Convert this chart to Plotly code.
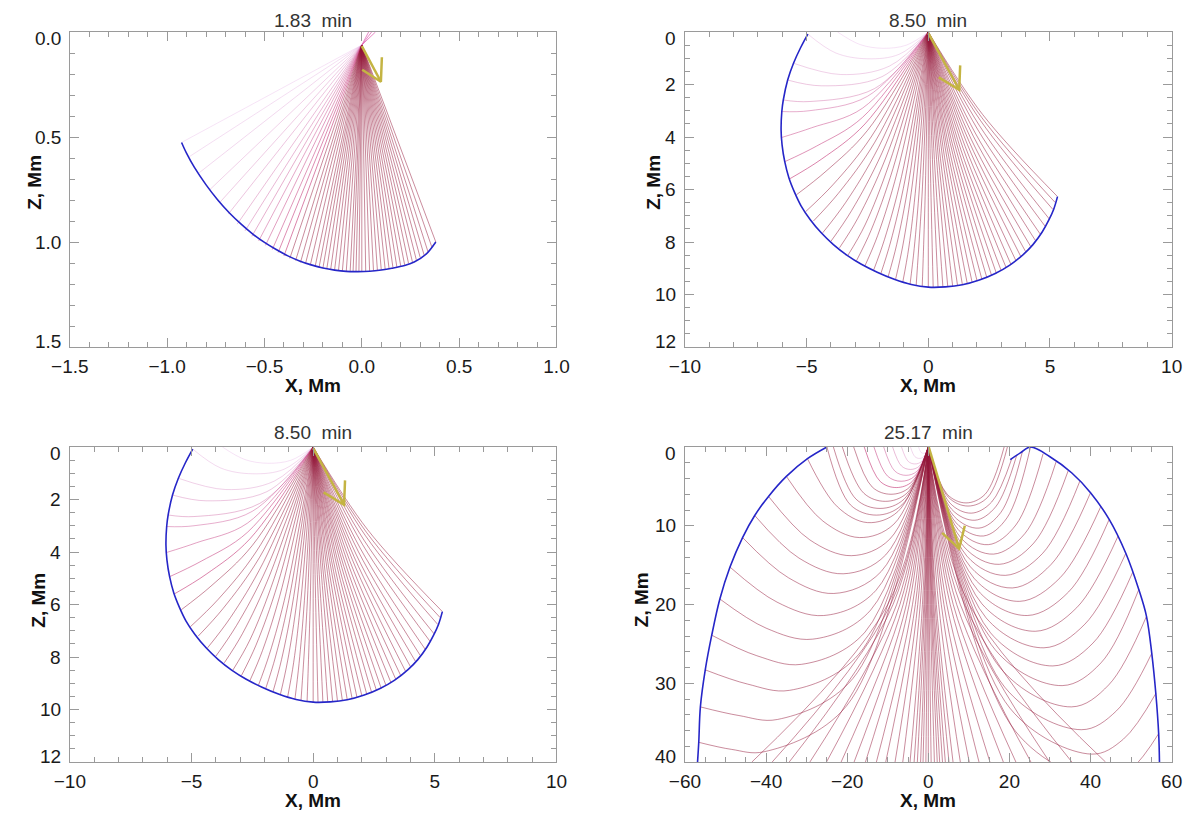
import plotly.graph_objects as go

FONT = "Liberation Sans, Arial, Helvetica, sans-serif"
GRAY = "#9a9a9a"
OFF = 8  # the page body margin shifts the figure by this many pixels

# ---------------- 1.83 min ----------------
p1_source = [0.0, 0.062]
p1_front_x = [-0.926, -0.90, -0.86, -0.80, -0.74, -0.68, -0.62, -0.56, -0.50, -0.44, -0.38, -0.32, -0.26, -0.20,
              -0.14, -0.08, -0.02, 0.04, 0.10, 0.154, 0.22, 0.269, 0.33, 0.38]
p1_front_z = [0.526, 0.578, 0.645, 0.728, 0.800, 0.862, 0.915, 0.962, 1.002, 1.036, 1.066, 1.090, 1.109, 1.124,
              1.134, 1.140, 1.141, 1.139, 1.133, 1.125, 1.112, 1.095, 1.058, 1.00]
# ray end points on the front (rays are near straight at this time)
p1_ray_x = [-0.926, -0.885, -0.835, -0.78, -0.73, -0.685, -0.64, -0.60, -0.565, -0.53, -0.495, -0.46, -0.43,
            -0.40, -0.37, -0.34, -0.315, -0.29, -0.265, -0.24, -0.22, -0.20, -0.18, -0.16, -0.14, -0.12, -0.10,
            -0.08, -0.06, -0.045, -0.03, -0.015, 0.0,
            0.02, 0.04, 0.06, 0.08, 0.10, 0.12, 0.14, 0.16, 0.18, 0.20, 0.22, 0.24, 0.26, 0.28, 0.30, 0.32, 0.34,
            0.36, 0.38]
p1_ray_z = [0.526, 0.593, 0.67, 0.75, 0.812, 0.866, 0.915, 0.947, 0.973, 0.995, 1.016, 1.036, 1.05,
            1.066, 1.078, 1.088, 1.097, 1.105, 1.111, 1.117, 1.122, 1.124, 1.128, 1.131, 1.134, 1.137, 1.139,
            1.140, 1.141, 1.141, 1.141, 1.141, 1.140,
            1.140, 1.139, 1.137, 1.135, 1.133, 1.130, 1.127, 1.123, 1.119, 1.115, 1.109, 1.102, 1.095, 1.085, 1.074,
            1.062, 1.047, 1.025, 1.0]
p1_n_soft = 14
p1_up_x = [0.035, 0.05, 0.07]
p1_up_z = [0.0, 0.0, 0.0]
p1_shaft_x = [0.0, 0.098]
p1_shaft_z = [0.067, 0.237]
p1_head_x = [0.103, 0.098, 0.002]
p1_head_z = [0.12, 0.237, 0.18]

# ---------------- 8.50 min ----------------
p2_source = [0.0, 0.0]
p2_front_x = [-4.95, -5.25, -5.54, -5.78, -5.96, -6.02, -6.05, -6.01, -5.90, -5.73, -5.50, -5.23, -4.85, -4.40,
              -3.90, -3.35, -2.75, -2.10, -1.40, -0.70, 0.00, 0.70, 1.40, 2.10, 2.75, 3.35, 3.91, 4.30, 4.68,
              4.95, 5.15, 5.31]
p2_front_z = [0.08, 0.60, 1.19, 1.83, 2.59, 3.03, 3.73, 4.30, 4.94, 5.55, 6.10, 6.62, 7.15, 7.65,
              8.10, 8.50, 8.85, 9.15, 9.42, 9.62, 9.72, 9.71, 9.63, 9.45, 9.20, 8.88, 8.47, 8.10, 7.62,
              7.17, 6.76, 6.27]
# each ray: points read along it after leaving the source
p2_ray_x = [
    [-0.9, -1.85, -2.8, -3.73], [-1.2, -2.5, -3.8, -4.95], [-1.6, -3.6, -5.54], [-1.9, -4.4, -5.78],
    [-2.2, -4.9, -5.96], [-2.5, -4.9, -6.02], [-2.7, -4.8, -6.03], [-2.7, -4.6, -5.9], [-2.6, -4.4, -5.71],
    [-2.5, -4.2, -5.42], [-2.35, -3.9, -5.05], [-2.2, -3.7, -4.72], [-2.05, -3.4, -4.34], [-1.9, -3.15, -4.0],
    [-1.75, -2.9, -3.65], [-1.6, -2.6, -3.3], [-1.45, -2.35, -2.95], [-1.28, -2.08, -2.6], [-1.1, -1.8, -2.25],
    [-0.95, -1.55, -1.95], [-0.8, -1.3, -1.65], [-0.65, -1.05, -1.35], [-0.5, -0.8, -1.05],
    [-0.36, -0.58, -0.75], [-0.24, -0.4, -0.5], [-0.12, -0.2, -0.25], [0.0, 0.0],
    [0.08, 0.2], [0.17, 0.4], [0.25, 0.6], [0.34, 0.8], [0.42, 1.0], [0.5, 1.2], [0.59, 1.4], [0.67, 1.6],
    [0.76, 1.8], [0.84, 2.0], [0.92, 2.2], [1.01, 2.4], [1.09, 2.6], [1.18, 2.8], [1.26, 3.0], [1.34, 3.2],
    [1.43, 3.4], [1.51, 3.6], [1.6, 3.8], [1.68, 4.0], [1.76, 4.2], [1.85, 4.4], [1.93, 4.6], [2.02, 4.8],
    [2.09, 4.97], [2.15, 5.12], [2.19, 5.22], [2.23, 5.31]]
p2_ray_z = [
    [0.5, 0.62, 0.48, 0.0], [0.85, 1.02, 0.8, 0.08], [1.3, 1.62, 1.19], [1.7, 2.05, 1.83],
    [2.15, 2.65, 2.59], [2.45, 3.0, 3.03], [2.9, 3.65, 4.02], [3.25, 4.35, 4.94], [3.5, 4.85, 5.6],
    [3.75, 5.3, 6.2], [4.0, 5.8, 6.85], [4.2, 6.15, 7.2], [4.4, 6.5, 7.65], [4.6, 6.8, 7.97],
    [4.8, 7.1, 8.22], [5.0, 7.35, 8.5], [5.2, 7.55, 8.71], [5.35, 7.75, 8.9], [5.5, 7.9, 9.08],
    [5.6, 8.0, 9.2], [5.7, 8.1, 9.32], [5.75, 8.15, 9.44], [5.8, 8.2, 9.53],
    [5.85, 8.25, 9.61], [5.9, 8.3, 9.66], [5.9, 8.35, 9.7], [4.86, 9.72],
    [4.86, 9.72], [4.86, 9.72], [4.86, 9.71], [4.85, 9.7], [4.84, 9.68], [4.83, 9.65], [4.81, 9.62], [4.79, 9.58],
    [4.77, 9.53], [4.74, 9.47], [4.71, 9.41], [4.67, 9.34], [4.64, 9.27], [4.6, 9.2], [4.55, 9.1], [4.49, 8.98],
    [4.43, 8.86], [4.35, 8.71], [4.27, 8.55], [4.18, 8.37], [4.08, 8.16], [3.97, 7.94], [3.85, 7.7], [3.7, 7.4],
    [3.55, 7.12], [3.38, 6.76], [3.25, 6.5], [3.14, 6.27]]
p2_n_soft = 9
p2_shaft_x = [0.0, 1.27]
p2_shaft_z = [0.04, 2.2]
p2_head_x = [1.31, 1.27, 0.43]
p2_head_z = [1.27, 2.2, 1.73]

# ---------------- 25.17 min ----------------
p4_source = [0.0, 0.0]
p4_front_l_x = [-25.0, -29.8, -35.0, -39.4, -42.8, -45.8, -48.9, -51.4, -53.4, -55.0, -56.2, -56.6, -56.9]
p4_front_l_z = [0.0, 1.48, 3.73, 6.27, 8.7, 11.5, 15.25, 19.3, 23.9, 28.3, 33.0, 37.5, 40.0]
p4_front_r_x = [20.2, 22.7, 25.2, 29.9, 35.4, 40.0, 44.6, 48.7, 51.9, 53.8, 55.1, 56.1, 56.8, 57.0]
p4_front_r_z = [1.6, 0.75, 0.0, 1.2, 3.3, 5.8, 9.2, 13.5, 18.1, 21.5, 26.2, 31.3, 36.4, 40.0]
p4_ray_x = [
    # arcs turning back to the surface, left of the source
    [-0.6, -1.2, -1.8, -2.4], [-1.1, -2.2, -3.3, -4.4], [-1.65, -3.3, -4.95, -6.6], [-2.2, -4.4, -6.6, -8.8],
    [-2.75, -5.5, -8.25, -11.0], [-3.35, -6.7, -10.05, -13.4], [-3.95, -7.9, -11.85, -15.8],
    [-4.6, -9.2, -13.8, -18.4], [-5.3, -10.6, -15.9, -21.2], [-6.0, -11.9, -17.8, -23.4],
    [-6.5, -12.8, -19.2, -25.0],
    # arcs ending on the left front
    [-7.5, -15.0, -22.4, -29.8], [-8.5, -17.0, -26.0, -35.0], [-9.5, -19.0, -29.2, -39.4],
    [-10.5, -21.0, -31.9, -42.8], [-11.6, -23.3, -34.5, -45.8], [-12.9, -25.8, -37.3, -48.9],
    [-14.2, -28.5, -40.0, -51.4], [-15.6, -31.3, -42.3, -53.4], [-17.1, -34.2, -44.6, -55.0],
    [-18.6, -37.2, -46.7, -56.2], [-20.2, -40.5, -48.5, -56.6],
    # steep rays leaving through the bottom
    [-10.0, -43.5], [-9.3, -38.5], [-8.7, -34.3], [-7.8, -29.2], [-7.0, -25.1], [-6.2, -21.5], [-5.4, -18.3],
    [-4.7, -15.5], [-3.9, -12.8], [-3.2, -10.5], [-2.6, -8.2], [-2.0, -6.3], [-1.45, -4.5], [-1.1, -3.5],
    [-0.88, -2.7], [-0.62, -1.9], [-0.42, -1.3], [-0.2, -0.6], [0.0, 0.0],
    [0.22, 0.7], [0.5, 1.5], [0.72, 2.2], [0.92, 2.8], [1.15, 3.5], [1.38, 4.2], [1.68, 5.1], [1.98, 6.1],
    [2.55, 7.9], [3.2, 10.1], [3.85, 12.5], [4.55, 15.2], [5.4, 18.5], [6.15, 21.6], [7.0, 25.3], [7.9, 29.9],
    [8.9, 35.4], [10.1, 43.7],
    # arcs right of the source
    [4.65, 9.3, 14.0, 18.7], [4.9, 9.8, 14.7, 19.5],
    [5.3, 10.6, 15.6, 20.6], [5.75, 11.5, 16.6, 21.8], [6.25, 12.5, 17.9, 23.2], [6.8, 13.6, 19.4, 25.2],
    [7.4, 14.8, 21.6, 28.3], [8.05, 16.1, 23.8, 31.5], [8.75, 17.5, 26.0, 34.5], [9.5, 19.0, 28.2, 37.4],
    [10.35, 20.7, 30.3, 40.0], [11.25, 22.5, 32.5, 42.5], [12.2, 24.4, 34.6, 44.6], [13.2, 26.4, 36.6, 46.8],
    [14.25, 28.5, 38.6, 48.7], [15.35, 30.7, 40.6, 50.4], [16.5, 33.0, 42.6, 51.9], [17.65, 35.3, 44.5, 53.8],
    [18.85, 37.7, 46.4, 55.1], [20.1, 40.2, 48.1, 56.1], [21.5, 43.0, 50.0, 56.8]]
p4_ray_z = [
    [0.68, 0.8, 0.68, 0.0], [1.23, 1.45, 1.23, 0.0], [1.83, 2.15, 1.83, 0.0], [2.42, 2.85, 2.42, 0.0],
    [3.06, 3.6, 3.06, 0.0], [3.7, 4.35, 3.7, 0.0], [4.38, 5.15, 4.38, 0.0],
    [5.1, 6.0, 5.1, 0.0], [5.87, 6.9, 5.87, 0.0], [6.63, 7.8, 6.63, 0.0],
    [7.35, 8.65, 7.35, 0.0],
    [8.2, 9.6, 7.6, 1.48], [9.8, 11.5, 9.4, 3.73], [11.7, 13.8, 11.8, 6.27],
    [13.7, 16.1, 14.1, 8.7], [15.8, 18.6, 16.6, 11.5], [18.2, 21.4, 19.7, 15.25],
    [20.7, 24.4, 23.0, 19.3], [23.5, 27.6, 26.5, 23.9], [26.3, 30.9, 30.1, 28.3],
    [29.4, 34.6, 34.1, 33.0], [32.9, 38.7, 38.4, 37.5],
    [20.0, 40.0], [20.0, 40.0], [20.0, 40.0], [20.0, 40.0], [20.0, 40.0], [20.0, 40.0], [20.0, 40.0],
    [20.0, 40.0], [20.0, 40.0], [20.0, 40.0], [20.0, 40.0], [20.0, 40.0], [20.0, 40.0], [20.0, 40.0],
    [20.0, 40.0], [20.0, 40.0], [20.0, 40.0], [20.0, 40.0], [20.0, 40.0],
    [20.0, 40.0], [20.0, 40.0], [20.0, 40.0], [20.0, 40.0], [20.0, 40.0], [20.0, 40.0], [20.0, 40.0], [20.0, 40.0],
    [20.0, 40.0], [20.0, 40.0], [20.0, 40.0], [20.0, 40.0], [20.0, 40.0], [20.0, 40.0], [20.0, 40.0], [20.0, 40.0],
    [20.0, 40.0], [20.0, 40.0],
    [6.0, 7.1, 6.0, 0.0], [6.35, 7.5, 6.35, 0.0],
    [7.1, 8.4, 7.0, 1.45], [7.9, 9.3, 7.6, 1.05], [8.75, 10.3, 8.3, 0.58], [9.6, 11.3, 9.0, 0.0],
    [10.5, 12.4, 9.9, 0.85], [11.55, 13.6, 11.0, 1.9], [12.65, 14.9, 12.2, 3.0], [13.85, 16.3, 13.5, 4.3],
    [15.2, 17.9, 14.9, 5.8], [16.65, 19.6, 16.6, 7.6], [18.2, 21.4, 18.4, 9.2], [19.9, 23.4, 20.4, 11.3],
    [21.7, 25.5, 22.5, 13.5], [23.6, 27.8, 24.9, 15.9], [25.75, 30.3, 27.4, 18.1], [28.0, 33.0, 30.2, 21.5],
    [30.5, 35.9, 33.5, 26.2], [33.15, 39.0, 37.1, 31.3], [36.1, 42.5, 40.9, 36.4]]
p4_n_soft = 7
p4_shaft_x = [0.1, 7.6]
p4_shaft_z = [0.0, 12.9]
p4_head_x = [9.0, 7.6, 3.4]
p4_head_z = [10.0, 12.9, 10.9]

titles = ["1.83\u00a0 min", "8.50\u00a0 min", "8.50\u00a0 min", "25.17\u00a0 min"]
z_ticks = [[0.0, 0.5, 1.0, 1.5], [0, 2, 4, 6, 8, 10, 12], [0, 2, 4, 6, 8, 10, 12], [0, 10, 20, 30, 40]]
z_tick_text = [["0.0", "0.5", "1.0", "1.5"], ["0", "2", "4", "6", "8", "10", "12"],
               ["0", "2", "4", "6", "8", "10", "12"], ["0", "10", "20", "30", "40"]]

fig = go.Figure()


def px(x):
    return (x - OFF) / 1200


def py(y):
    return 1 - (y - OFF) / 813


LEFT = [px(52), px(552)]
RIGHT = [px(684), px(1184)]
TOP = [py(347), py(32)]
BOTTOM = [py(762), py(447)]
panels = [("x", "y", LEFT, TOP), ("x2", "y2", RIGHT, TOP), ("x3", "y3", LEFT, BOTTOM), ("x4", "y4", RIGHT, BOTTOM)]


def soft_color(k, n_soft):
    # the shallow rays are drawn pale and pinkish, the rest dark red
    if k >= n_soft:
        return "rgba(150,25,60,0.5)"
    f = k / max(n_soft - 1, 1)
    r = int(228 - 33 * f)
    g = int(175 - 125 * f)
    b = int(228 - 113 * f)
    a = 0.35 + 0.25 * f
    return f"rgba({r},{g},{b},{a:.2f})"


def add_line(xs, zs, ax, color, width=1.0, spline=False):
    fig.add_trace(go.Scatter(x=xs, y=zs, mode="lines", xaxis=ax[0], yaxis=ax[1],
                             line=dict(color=color, width=width, shape="spline" if spline else "linear"),
                             hoverinfo="skip", showlegend=False))


def add_rays(src, rx, rz, n_soft, ax):
    for k in range(len(rx)):
        add_line([src[0]] + rx[k], [src[1]] + rz[k], ax, soft_color(k, n_soft), spline=len(rx[k]) > 1)


def add_arrow(sx, sz, hx, hz, ax):
    add_line(sx, sz, ax, "#c4b443", width=2.5)
    add_line(hx, hz, ax, "#c4b443", width=2.5)


# panel 1
ax = panels[0]
add_rays(p1_source, [[x] for x in p1_ray_x], [[z] for z in p1_ray_z], p1_n_soft, ax)
for k in range(len(p1_up_x)):
    add_line([p1_source[0], p1_up_x[k]], [p1_source[1], p1_up_z[k]], ax, "rgba(215,60,160,0.6)")
add_line(p1_front_x, p1_front_z, ax, "#2626c8", width=1.6, spline=True)
add_arrow(p1_shaft_x, p1_shaft_z, p1_head_x, p1_head_z, ax)

# panels 2 and 3 (same moment)
for ax in (panels[1], panels[2]):
    add_rays(p2_source, p2_ray_x, p2_ray_z, p2_n_soft, ax)
    add_line(p2_front_x, p2_front_z, ax, "#2626c8", width=1.6, spline=True)
    add_arrow(p2_shaft_x, p2_shaft_z, p2_head_x, p2_head_z, ax)

# panel 4
ax = panels[3]
add_rays(p4_source, p4_ray_x, p4_ray_z, p4_n_soft, ax)
add_line(p4_front_l_x, p4_front_l_z, ax, "#2626c8", width=1.6, spline=True)
add_line(p4_front_r_x, p4_front_r_z, ax, "#2626c8", width=1.6, spline=True)
add_arrow(p4_shaft_x, p4_shaft_z, p4_head_x, p4_head_z, ax)

# x range, z range, major/minor steps
axis_cfg = [
    ([-1.5, 1.0], [1.5, 0.0], 0.5, 0.1, 0.5, 0.1, ".1f"),
    ([-10, 10], [12, 0], 5, 1, 2, 0.5, ""),
    ([-10, 10], [12, 0], 5, 1, 2, 0.5, ""),
    ([-60, 60], [40, 0], 20, 5, 10, 2, ""),
]

layout = {}
annotations = []
for i, ((xa, ya, xdom, ydom), (xr, zr, xt, xm, zt, zm, fmt)) in enumerate(zip(panels, axis_cfg)):
    common = dict(showline=True, linecolor=GRAY, linewidth=1, mirror="allticks", ticks="inside", ticklen=9,
                  tickcolor=GRAY, tickwidth=1, showgrid=False, zeroline=False,
                  tickfont=dict(family=FONT, size=19, color="#1a1a1a"))
    xkey = "xaxis" if i == 0 else f"xaxis{i + 1}"
    ykey = "yaxis" if i == 0 else f"yaxis{i + 1}"
    layout[xkey] = dict(common, domain=xdom, anchor=ya, range=xr, dtick=xt, tick0=0, tickformat=fmt,
                        ticklabelstandoff=2,
                        minor=dict(dtick=xm, tick0=0, ticks="inside", ticklen=5, tickcolor=GRAY, showgrid=False))
    layout[ykey] = dict(common, domain=ydom, anchor=xa, range=zr, dtick=zt, tick0=0, showticklabels=False,
                        minor=dict(dtick=zm, tick0=0, ticks="inside", ticklen=5, tickcolor=GRAY, showgrid=False))
    # z labels: the end labels sit inside the axis span
    n = len(z_ticks[i])
    for j in range(n):
        shift = -6 if j == 0 else (6 if j == n - 1 else 0)
        annotations.append(dict(text=z_tick_text[i][j], x=0, y=z_ticks[i][j], xref=f"{xa} domain", yref=ya,
                                xanchor="right", yanchor="middle", xshift=-7, yshift=shift, showarrow=False,
                                font=dict(family=FONT, size=19, color="#1a1a1a")))

title_pos = [(302, 20), (934, 20), (302, 432), (934, 432)]
xlab_pos = [(302, 386), (934, 386), (302, 800), (934, 800)]
zlab_pos = [(15, 182), (651, 182), (19, 600), (639, 600)]
for i in range(4):
    annotations.append(dict(text=titles[i], x=px(title_pos[i][0]), y=py(title_pos[i][1]),
                            xref="paper", yref="paper", showarrow=False, xanchor="center", yanchor="middle",
                            font=dict(family=FONT, size=19, color="#333333")))
    annotations.append(dict(text="<b>X, Mm</b>", x=px(xlab_pos[i][0]), y=py(xlab_pos[i][1]),
                            xref="paper", yref="paper", showarrow=False, xanchor="center", yanchor="middle",
                            font=dict(family=FONT, size=19, color="#111111")))
    annotations.append(dict(text="<b>Z, Mm</b>", x=px(zlab_pos[i][0]), y=py(zlab_pos[i][1]),
                            xref="paper", yref="paper", showarrow=False, xanchor="center", yanchor="middle",
                            textangle=-90, font=dict(family=FONT, size=19, color="#111111")))

fig.update_layout(width=1200, height=813, margin=dict(l=0, r=0, t=0, b=0),
                  paper_bgcolor="white", plot_bgcolor="white", annotations=annotations, **layout)

fig.write_html("out.html")
